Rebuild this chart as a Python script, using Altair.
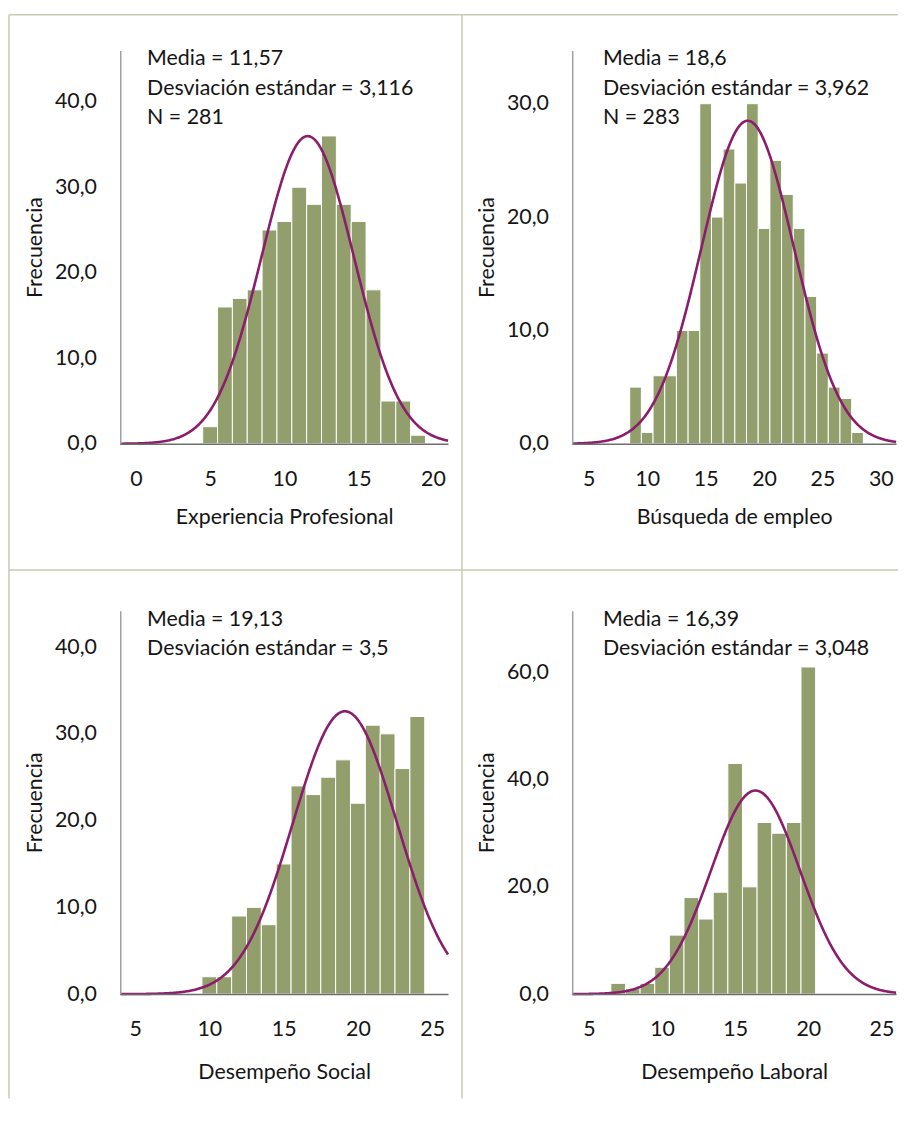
import altair as alt
import pandas as pd
import numpy as np

FONT = "Lato"
FS = 21.5
BAR = "#929f6c"
CURVE = "#8c1c6c"
BORDER = "#c9c9b5"
TXT = "#151515"

# ---- Panel 1: Experiencia Profesional
p1_title = "Experiencia Profesional"
p1_centers = [5, 6, 7, 8, 9, 10, 11, 12, 13, 14, 15, 16, 17, 18, 19]
p1_counts = [2, 16, 17, 18, 25, 26, 30, 28, 36, 28, 26, 18, 5, 5, 1]
p1_mean, p1_sd, p1_n = 11.57, 3.116, 281
p1_lines = ["Media = 11,57", "Desviación estándar = 3,116", "N = 281"]
p1_xticks = [0, 5, 10, 15, 20]
p1_yticks = [0, 10, 20, 30, 40]
p1_xdom = [-1.05, 21.02]
p1_ydom = [0, 46.0]

# ---- Panel 2: Búsqueda de empleo
p2_title = "Búsqueda de empleo"
p2_centers = [9, 10, 11, 12, 13, 14, 15, 16, 17, 18, 19, 20, 21, 22, 23, 24, 25, 26, 27, 28]
p2_counts = [5, 1, 6, 6, 10, 10, 30, 20, 26, 23, 30, 19, 25, 22, 19, 13, 8, 5, 4, 1]
p2_mean, p2_sd, p2_n = 18.6, 3.962, 283
p2_lines = ["Media = 18,6", "Desviación estándar = 3,962", "N = 283"]
p2_xticks = [5, 10, 15, 20, 25, 30]
p2_yticks = [0, 10, 20, 30]
p2_xdom = [3.58, 31.3]
p2_ydom = [0, 34.7]

# ---- Panel 3: Desempeño Social
p3_title = "Desempeño Social"
p3_centers = [10, 11, 12, 13, 14, 15, 16, 17, 18, 19, 20, 21, 22, 23, 24]
p3_counts = [2, 2, 9, 10, 8, 15, 24, 23, 25, 27, 22, 31, 30, 26, 32]
p3_mean, p3_sd, p3_n = 19.13, 3.5, 286
p3_lines = ["Media = 19,13", "Desviación estándar = 3,5"]
p3_xticks = [5, 10, 15, 20, 25]
p3_yticks = [0, 10, 20, 30, 40]
p3_xdom = [4.0, 26.07]
p3_ydom = [0, 44.2]

# ---- Panel 4: Desempeño Laboral
p4_title = "Desempeño Laboral"
p4_centers = [7, 8, 9, 10, 11, 12, 13, 14, 15, 16, 17, 18, 19, 20]
p4_counts = [2, 1, 2, 5, 11, 18, 14, 19, 43, 20, 32, 30, 32, 61]
p4_mean, p4_sd, p4_n = 16.39, 3.048, 290
p4_lines = ["Media = 16,39", "Desviación estándar = 3,048"]
p4_xticks = [5, 10, 15, 20, 25]
p4_yticks = [0, 20, 40, 60]
p4_xdom = [3.86, 26.0]
p4_ydom = [0, 71.5]

BIN_WIDTH = 1.0
dummy = pd.DataFrame({"k": [0]})


def panel(title, centers, counts, mean, sd, n, xdom, ydom, xticks, yticks,
          lines, w, h, text_x, title_pad, borders=False):
    bars_df = pd.DataFrame({"c": centers, "f": counts})
    bars_df["x0"] = bars_df["c"] - BIN_WIDTH / 2
    bars_df["x1"] = bars_df["c"] + BIN_WIDTH / 2
    bars_df["base"] = 0
    xs = np.linspace(xdom[0], xdom[1], 400)
    ys = n * BIN_WIDTH * np.exp(-0.5 * ((xs - mean) / sd) ** 2) / (sd * np.sqrt(2 * np.pi))
    curve_df = pd.DataFrame({"x": xs, "y": ys})

    xscale = alt.Scale(domain=xdom, nice=False, zero=False)
    yscale = alt.Scale(domain=ydom, nice=False, zero=True)
    xaxis = alt.Axis(title=title, values=xticks, ticks=False, grid=False,
                     labelPadding=25, titlePadding=title_pad, domainColor="#6e6e6e",
                     domainWidth=1.5, labelFlush=False, zindex=1, format="d")
    yaxis = alt.Axis(title="Frecuencia", values=yticks, ticks=False, grid=False,
                     labelPadding=24, titlePadding=8, domainColor="#a0a0a0",
                     domainWidth=1.5, zindex=1,
                     labelExpr="replace(format(datum.value, '.1f'), '.', ',')")

    bars = alt.Chart(bars_df).mark_bar(color=BAR, stroke="white", strokeWidth=1).encode(
        x=alt.X("x0:Q", scale=xscale, axis=xaxis),
        x2="x1:Q",
        y=alt.Y("f:Q", scale=yscale, axis=yaxis),
        y2="base:Q",
    )
    curve = alt.Chart(curve_df).mark_line(color=CURVE, strokeWidth=2.6).encode(
        x=alt.X("x:Q", scale=xscale, axis=xaxis),
        y=alt.Y("y:Q", scale=yscale, axis=yaxis),
    )
    text = alt.Chart(dummy).mark_text(
        align="left", baseline="alphabetic", font=FONT, fontSize=FS,
        lineHeight=29.5, color=TXT
    ).encode(x=alt.value(text_x), y=alt.value(15), text=alt.value(lines))

    layers = [bars, curve, text]
    if borders:
        def rule(**kw):
            return alt.Chart(dummy).mark_rule(color=BORDER, strokeWidth=1.5).encode(**kw)
        layers += [
            rule(x=alt.value(-112), x2=alt.value(783), y=alt.value(-36)),
            rule(x=alt.value(-112), x2=alt.value(783), y=alt.value(523)),
            rule(x=alt.value(-112), y=alt.value(-36), y2=alt.value(1055)),
            rule(x=alt.value(344), y=alt.value(-36), y2=alt.value(1055)),
        ]
    return alt.layer(*layers).properties(width=w, height=h)


c1 = panel(p1_title, p1_centers, p1_counts, p1_mean, p1_sd, p1_n, p1_xdom, p1_ydom,
           p1_xticks, p1_yticks, p1_lines, 330, 396, 27, 17, borders=True)
c2 = panel(p2_title, p2_centers, p2_counts, p2_mean, p2_sd, p2_n, p2_xdom, p2_ydom,
           p2_xticks, p2_yticks, p2_lines, 326, 396, 31, 17)
c3 = panel(p3_title, p3_centers, p3_counts, p3_mean, p3_sd, p3_n, p3_xdom, p3_ydom,
           p3_xticks, p3_yticks, p3_lines, 330, 386, 27, 21)
c4 = panel(p4_title, p4_centers, p4_counts, p4_mean, p4_sd, p4_n, p4_xdom, p4_ydom,
           p4_xticks, p4_yticks, p4_lines, 326, 386, 31, 21)

chart = alt.concat(
    c1, c2, c3, c4, columns=2,
    spacing={"row": 168, "column": 125}, bounds="flush"
).properties(
    padding={"left": 0, "top": 2, "right": 3, "bottom": 10}
).configure_view(
    stroke=None
).configure_axis(
    labelFont=FONT, titleFont=FONT, labelFontSize=FS, titleFontSize=FS,
    titleFontWeight="normal", labelColor=TXT, titleColor=TXT
)

chart.save("out.html", embed_options={"renderer": "svg", "actions": False})
